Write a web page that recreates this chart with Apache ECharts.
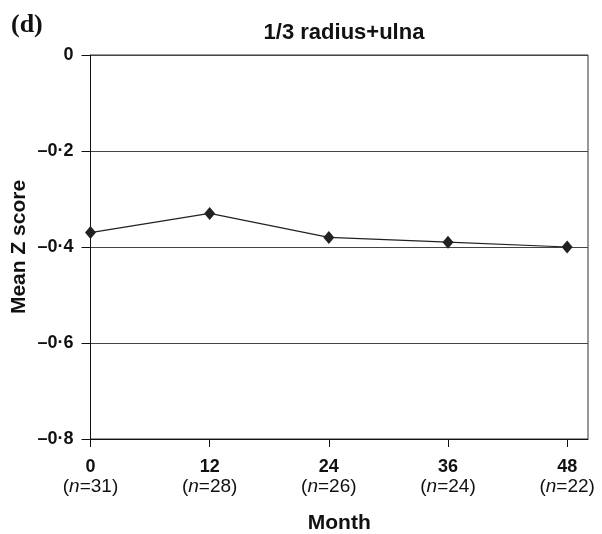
<!DOCTYPE html>
<html>
<head>
<meta charset="utf-8">
<script src="https://cdn.jsdelivr.net/npm/echarts@6/dist/echarts.min.js"></script>
<style>
  html, body { margin: 0; padding: 0; background: #fff; }
  #chart { width: 602px; height: 534px; }
</style>
</head>
<body>
<div id="chart"></div>
<script>
// 数据
var months = [0, 12, 24, 36, 48];
var meanZ = [-0.37, -0.33, -0.38, -0.39, -0.40];
var nCounts = [31, 28, 26, 24, 22];
var yTicks = [0, -0.2, -0.4, -0.6, -0.8];

var myChart = echarts.init(document.getElementById('chart'));

function fmtY(v) {
  if (v === 0) return '0';
  return (v < 0 ? '\u2013' : '') + Math.abs(v).toFixed(1).replace('.', '\u00b7');
}

myChart.setOption({
  animation: false,
  backgroundColor: '#fff',
  title: [
    {
      text: '(d)',
      left: 6, top: 7,
      textStyle: { fontFamily: 'Liberation Serif', fontWeight: 'bold', fontSize: 26, color: '#111' }
    },
    {
      text: '1/3 radius+ulna',
      left: 339, top: 17, textAlign: 'center',
      textStyle: { fontFamily: 'Liberation Sans', fontWeight: 'bold', fontSize: 22, color: '#111' }
    }
  ],
  grid: {
    left: 90.5, right: 14, top: 55, bottom: 95,
    outerBoundsMode: 'none',
    containLabel: false,
    show: true, borderColor: '#333', borderWidth: 1
  },
  xAxis: {
    type: 'value',
    min: 0, max: 50.1,
    name: 'Month',
    nameLocation: 'middle',
    nameGap: 74,
    nameTextStyle: { fontFamily: 'Liberation Sans', fontWeight: 'bold', fontSize: 21, color: '#111' },
    axisLine: { onZero: false, lineStyle: { color: '#111', width: 1 } },
    axisTick: { show: true, length: 8, customValues: months, lineStyle: { color: '#111' } },
    splitLine: { show: false },
    axisLabel: {
      customValues: months,
      margin: 18,
      formatter: function (v) {
        var i = months.indexOf(v);
        return '{b|' + v + '}\n{r|(}{i|n}{r|=' + nCounts[i] + ')}';
      },
      rich: {
        b: { fontFamily: 'Liberation Sans', fontWeight: 'bold', fontSize: 18, color: '#111', lineHeight: 20 },
        r: { fontFamily: 'Liberation Sans', fontSize: 19, color: '#111', lineHeight: 20 },
        i: { fontFamily: 'Liberation Sans', fontStyle: 'italic', fontSize: 19, color: '#111', lineHeight: 20 }
      }
    }
  },
  yAxis: {
    type: 'value',
    min: -0.8, max: 0, interval: 0.2,
    name: 'Mean Z score',
    nameLocation: 'middle',
    nameGap: 61,
    nameMoveOverlap: false,
    nameTextStyle: { fontFamily: 'Liberation Sans', fontWeight: 'bold', fontSize: 21, color: '#111' },
    axisLine: { show: true, lineStyle: { color: '#111', width: 1 } },
    axisTick: { show: true, length: 9, lineStyle: { color: '#111' } },
    axisLabel: {
      margin: 17,
      fontFamily: 'Liberation Sans', fontWeight: 'bold', fontSize: 18, color: '#111',
      formatter: fmtY
    },
    splitLine: { show: true, lineStyle: { color: '#444', width: 1 } }
  },
  series: [
    {
      type: 'line',
      data: months.map(function (m, i) { return [m, meanZ[i]]; }),
      symbol: 'diamond',
      symbolSize: [11, 13],
      itemStyle: { color: '#222' },
      lineStyle: { color: '#222', width: 1.2 }
    }
  ]
});
</script>
</body>
</html>
